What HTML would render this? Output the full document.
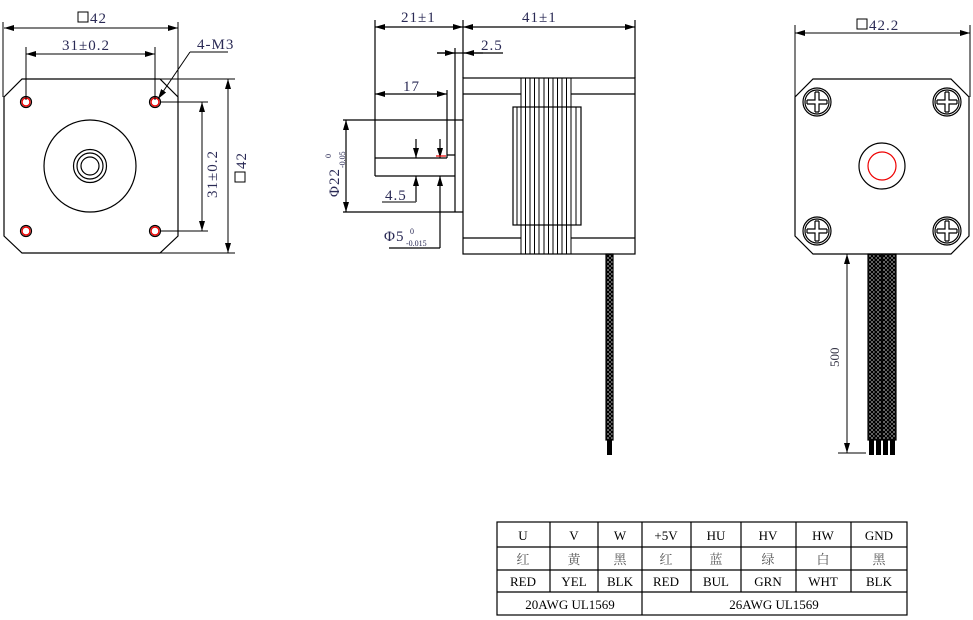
<!DOCTYPE html>
<html><head><meta charset="utf-8"><style>
html,body{margin:0;padding:0;background:#fff}
svg{display:block}
text{font-family:"Liberation Serif","Noto Serif CJK SC",serif;}
</style></head><body>
<svg width="973" height="620" viewBox="0 0 973 620" xmlns="http://www.w3.org/2000/svg">
<defs>
<marker id="a" viewBox="0 0 10 6" refX="10" refY="3" markerWidth="10" markerHeight="6" orient="auto-start-reverse" markerUnits="userSpaceOnUse"><path d="M0,0 L10,3 L0,6 z" fill="#000"/></marker>
<pattern id="br" width="4" height="4" patternUnits="userSpaceOnUse"><rect width="4" height="4" fill="#fff"/><path d="M0,0 L4,4 M4,0 L0,4" stroke="#000" stroke-width="1.6"/></pattern>
</defs>
<g fill="none" stroke="#000" stroke-width="1.2">
<path d="M22,79 L160,79 L178,97 L178,236 L160,253 L22,253 L4,236 L4,97 Z"/>
<circle cx="90" cy="166" r="46"/>
<circle cx="90" cy="166" r="16.5"/>
<circle cx="90" cy="166" r="13"/>
<circle cx="90" cy="166" r="9"/>
<g><circle cx="26" cy="102" r="5.5"/><circle cx="155" cy="102" r="5.5"/><circle cx="26" cy="231" r="5.5"/><circle cx="155" cy="231" r="5.5"/></g>
<g stroke="#e00" stroke-width="1.4"><circle cx="26" cy="102" r="4"/><circle cx="155" cy="102" r="4"/><circle cx="26" cy="231" r="4"/><circle cx="155" cy="231" r="4"/></g>
<g stroke-width="1">
<path d="M3,22 V97 M178,22 V97"/>
<line x1="4" y1="28" x2="178" y2="28" marker-start="url(#a)" marker-end="url(#a)"/>
<path d="M26,47 V100 M155,47 V100"/>
<line x1="26" y1="54" x2="155" y2="54" marker-start="url(#a)" marker-end="url(#a)"/>
<path d="M190,52 H228"/>
<line x1="190" y1="52" x2="158" y2="99" marker-end="url(#a)"/>
<path d="M160,79 H235 M160,102 H208 M160,231 H208 M160,253 H235"/>
<line x1="228" y1="79" x2="228" y2="253" marker-start="url(#a)" marker-end="url(#a)"/>
<line x1="202" y1="102" x2="202" y2="231" marker-start="url(#a)" marker-end="url(#a)"/>
</g>
<rect x="463" y="78" width="172" height="176"/>
<path d="M463,94 H521 M571,94 H635 M463,238 H521 M571,238 H635"/>
<rect x="513" y="107" width="68" height="118"/>
<g stroke-width="1"><path d="M521,78V254 M525.5,78V254 M530,78V254 M534.5,78V254 M539,78V254 M544,78V254 M548.5,78V254 M553,78V254 M557.5,78V254 M562,78V254 M566.5,78V254 M571,78V254 M517,107V225 M576,107V225"/></g>
<path d="M455,48 V212 M343,120 H463 M343,212 H463"/>
<path d="M375,20 V176 M375,158 H447 M375,176 H455 M447,90 V158 M447,155 H455"/>
<path d="M437,53 H483 M483,53 H503"/>
<line x1="437" y1="53" x2="455" y2="53" marker-end="url(#a)"/>
<line x1="483" y1="53" x2="464" y2="53" marker-end="url(#a)"/>
<path d="M463,20 V78 M635,20 V78"/>
<line x1="375" y1="27" x2="463" y2="27" marker-start="url(#a)" marker-end="url(#a)"/>
<line x1="463" y1="27" x2="635" y2="27" marker-start="url(#a)" marker-end="url(#a)"/>
<line x1="375" y1="94" x2="447" y2="94" marker-start="url(#a)" marker-end="url(#a)"/>
<line x1="346" y1="120" x2="346" y2="212" marker-start="url(#a)" marker-end="url(#a)"/>
<line x1="416" y1="139" x2="416" y2="158" marker-end="url(#a)"/>
<line x1="416" y1="202" x2="416" y2="176" marker-end="url(#a)"/>
<path d="M382,202 H416" stroke="#555" stroke-width="1.6"/>
<line x1="440" y1="139" x2="440" y2="158" marker-end="url(#a)"/>
<line x1="440" y1="248" x2="440" y2="176" marker-end="url(#a)"/>
<path d="M389,248 H440"/>
<path d="M436,156 H446" stroke="#e00"/>
<path d="M813,79 L951,79 L969,97 L969,236 L951,254 L813,254 L795,236 L795,97 Z"/>
<circle cx="882" cy="166" r="23"/>
<circle cx="882" cy="166" r="14" stroke="#e00"/>
<g stroke-width="1">
<path d="M795,25 V97 M970,25 V97"/>
<line x1="795" y1="33" x2="970" y2="33" marker-start="url(#a)" marker-end="url(#a)"/>
<line x1="847" y1="254" x2="847" y2="453" marker-start="url(#a)" marker-end="url(#a)"/>
<path d="M838,453 H866"/>
</g>
</g>
<g fill="none" stroke="#000" stroke-width="1.2">
<g transform="translate(817,102)"><circle r="14"/><circle r="12"/><path d="M-2,-10 V-2 H-10 M2,-10 V-2 H10 M-2,10 V2 H-10 M2,10 V2 H10 M-2,-10 H2 M-2,10 H2 M-10,-2 V2 M10,-2 V2"/></g>
<g transform="translate(947,102)"><circle r="14"/><circle r="12"/><path d="M-2,-10 V-2 H-10 M2,-10 V-2 H10 M-2,10 V2 H-10 M2,10 V2 H10 M-2,-10 H2 M-2,10 H2 M-10,-2 V2 M10,-2 V2"/></g>
<g transform="translate(817,231)"><circle r="14"/><circle r="12"/><path d="M-2,-10 V-2 H-10 M2,-10 V-2 H10 M-2,10 V2 H-10 M2,10 V2 H10 M-2,-10 H2 M-2,10 H2 M-10,-2 V2 M10,-2 V2"/></g>
<g transform="translate(947,231)"><circle r="14"/><circle r="12"/><path d="M-2,-10 V-2 H-10 M2,-10 V-2 H10 M-2,10 V2 H-10 M2,10 V2 H10 M-2,-10 H2 M-2,10 H2 M-10,-2 V2 M10,-2 V2"/></g>
</g>
<rect x="606" y="254" width="7" height="186" fill="url(#br)" stroke="#000" stroke-width="1.2"/>
<rect x="607" y="440" width="5" height="15" fill="#000"/>
<rect x="868" y="254" width="28" height="186" fill="url(#br)" stroke="#000" stroke-width="1.2"/>
<path d="M875,254V440 M882,254V440 M889,254V440" stroke="#000" stroke-width="1.2"/>
<g fill="#000"><rect x="869" y="440" width="5" height="15"/><rect x="876" y="440" width="5" height="15"/><rect x="883" y="440" width="5" height="15"/><rect x="890" y="440" width="5" height="15"/></g>
<g fill="#2a2a55" font-size="15" letter-spacing="1">
<rect x="78" y="12" width="10" height="10" fill="none" stroke="#000"/>
<text x="90" y="23">42</text>
<text x="62" y="50">31±0.2</text>
<text x="197" y="49">4-M3</text>
<text transform="translate(217,198) rotate(-90)">31±0.2</text>
<rect x="235" y="172" width="10" height="10" fill="none" stroke="#000"/>
<text transform="translate(246,169) rotate(-90)">42</text>
<text x="401" y="22">21±1</text>
<text x="522" y="22">41±1</text>
<text x="481" y="50">2.5</text>
<text x="403" y="91">17</text>
<text x="385" y="200">4.5</text>
<text x="384" y="241">Φ5</text>
<text x="410" y="234" font-size="8" letter-spacing="0">0</text>
<text x="406" y="246" font-size="8" letter-spacing="0">-0.015</text>
<text transform="translate(339,197) rotate(-90)">Φ22</text>
<text transform="translate(331,158) rotate(-90)" font-size="8" letter-spacing="0">0</text>
<text transform="translate(345,168) rotate(-90)" font-size="8" letter-spacing="0">-0.05</text>
<rect x="857" y="19" width="10" height="10" fill="none" stroke="#000"/>
<text x="869" y="30">42.2</text>
<text transform="translate(839,367) rotate(-90)" font-size="13" fill="#334" letter-spacing="0">500</text>
</g>
<g stroke="#000" stroke-width="1.2" fill="none">
<rect x="497" y="522" width="410" height="93"/>
<path d="M497,547H907 M497,570H907 M497,592H907 M550,522V592 M598,522V592 M642,522V615 M691,522V592 M741,522V592 M796,522V592 M851,522V592"/>
</g>
<g font-size="13" text-anchor="middle" fill="#000">
<text x="523" y="540">U</text><text x="574" y="540">V</text><text x="620" y="540">W</text><text x="666" y="540">+5V</text><text x="716" y="540">HU</text><text x="768" y="540">HV</text><text x="823" y="540">HW</text><text x="879" y="540">GND</text>
<g fill="#555" font-family="'Noto Sans CJK SC',sans-serif"><text x="523" y="564">红</text><text x="574" y="564">黄</text><text x="620" y="564">黑</text><text x="666" y="564">红</text><text x="716" y="564">蓝</text><text x="768" y="564">绿</text><text x="823" y="564">白</text><text x="879" y="564">黑</text></g>
<text x="523" y="586">RED</text><text x="574" y="586">YEL</text><text x="620" y="586">BLK</text><text x="666" y="586">RED</text><text x="716" y="586">BUL</text><text x="768" y="586">GRN</text><text x="823" y="586">WHT</text><text x="879" y="586">BLK</text>
<text x="570" y="609" font-family="'Liberation Mono',monospace">20AWG UL1569</text>
<text x="774" y="609" font-family="'Liberation Mono',monospace">26AWG UL1569</text>
</g>
</svg>
</body></html>
